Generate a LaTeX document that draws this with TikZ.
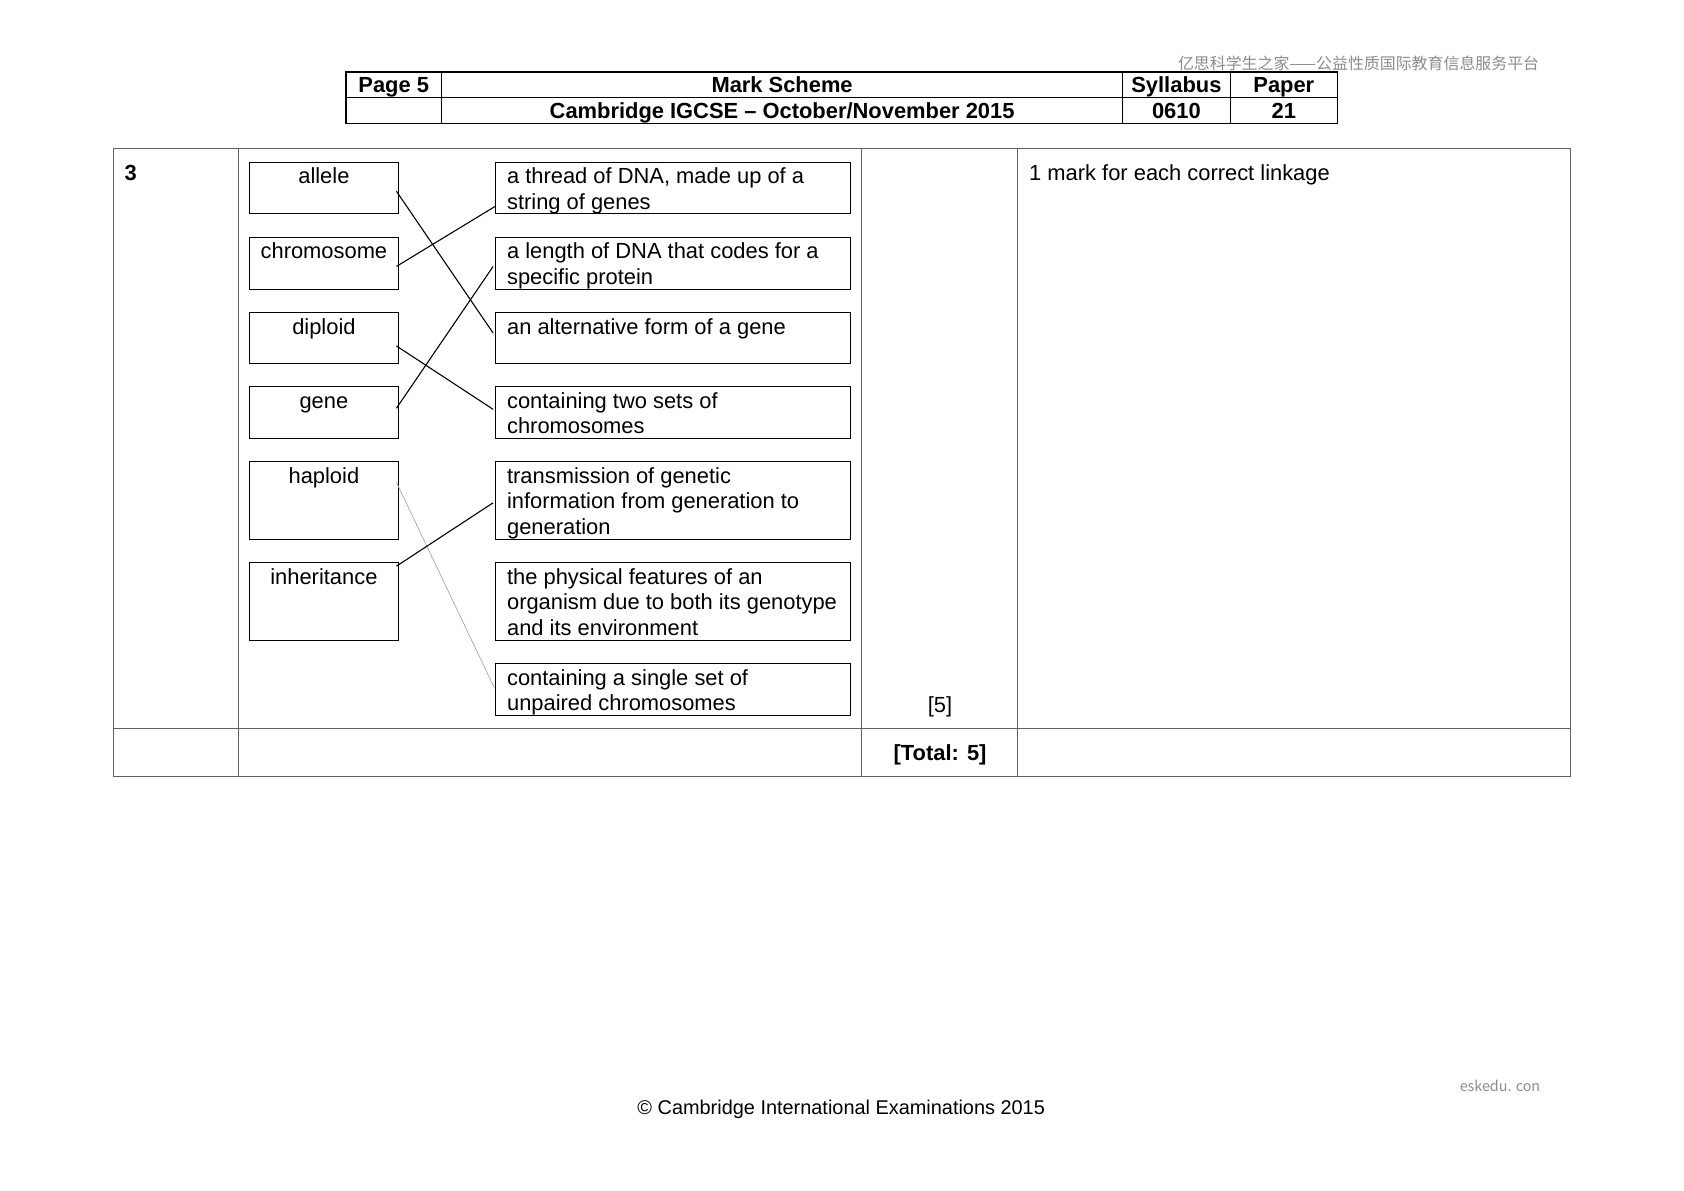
\documentclass[tikz,border=0pt]{standalone}
\usepackage{fontspec}
\setmainfont{Liberation Sans}
\newfontfamily\cjk{Noto Sans CJK SC}
\def\u{0.5397pt}
\begin{document}
\begin{tikzpicture}[x=0.5397pt,y=-0.5397pt,
  hline/.style={draw=black,line width=0.6pt},
  tline/.style={draw=black!62,line width=0.6pt},
  txt/.style={font=\fontsize{11}{12.7}\selectfont,inner sep=0pt,outer sep=0pt},
  btxt/.style={font=\fontsize{11}{12.7}\selectfont\bfseries,inner sep=0pt,outer sep=0pt},
  lbox/.style={draw=black,line width=0.5pt,anchor=north west,inner sep=0pt,outer sep=0pt,minimum width=139*\u},
  rbox/.style={draw=black,line width=0.5pt,anchor=north west,inner sep=0pt,outer sep=0pt,minimum width=331*\u},
  conn/.style={draw=black,line width=0.55pt},
  connlight/.style={draw=black!35,line width=0.35pt},
  wm/.style={font=\cjk\fontsize{8}{9}\selectfont,text=black!45,inner sep=0pt}
]
\useasboundingbox (0,0) rectangle (1567.5,1107.7);

% watermark
\node[wm,anchor=base east] (wm1) at (1433,65) {亿思科学生之家——公益性质国际教育信息服务平台};
\node[wm,font=\cjk\fontsize{7.2}{8}\selectfont,anchor=base east] (wm2) at (1434,1016) {eskedu. con};

% header table
\draw[hline] (322,67) rectangle (1245,115);
\draw[hline] (322,91) -- (1245,91);
\foreach \xx in {411,1045,1145} \draw[hline] (\xx,67) -- (\xx,115);
\node[btxt,anchor=base] (h1) at (366.5,86) {Page 5};
\node[btxt,anchor=base] (h2) at (728,86) {Mark Scheme};
\node[btxt,anchor=base] (h3) at (1095,86) {Syllabus};
\node[btxt,anchor=base] (h4) at (1195,86) {Paper};
\node[btxt,anchor=base] (h5) at (728,110) {Cambridge IGCSE – October/November 2015};
\node[btxt,anchor=base] (h6) at (1095,110) {0610};
\node[btxt,anchor=base] (h7) at (1195,110) {21};

% main table
\draw[tline] (106,138) rectangle (1462,723);
\draw[tline] (106,678) -- (1462,678);
\foreach \xx in {222,802,947} \draw[tline] (\xx,138) -- (\xx,723);
\node[btxt,anchor=base west] (q) at (116,168) {3};
\node[txt,anchor=base west] (note) at (958,168) {1 mark for each correct linkage};
\node[txt,anchor=base] (m5) at (875,663) {[5]};
\node[btxt,anchor=base] (tot) at (875,708) {[Total: 5]};

% left boxes
\node[lbox,minimum height=48*\u] (l1) at (232,151) {};
\node[lbox,minimum height=48*\u] (l2) at (232,221) {};
\node[lbox,minimum height=47*\u] (l3) at (232,291) {};
\node[lbox,minimum height=48*\u] (l4) at (232,360) {};
\node[lbox,minimum height=72*\u] (l5) at (232,430) {};
\node[lbox,minimum height=72*\u] (l6) at (232,524) {};
\node[txt,anchor=base] (t1) at ([yshift=-20*\u]l1.north) {allele};
\node[txt,anchor=base] (t2) at ([yshift=-20*\u]l2.north) {chromosome};
\node[txt,anchor=base] (t3) at ([yshift=-20*\u]l3.north) {diploid};
\node[txt,anchor=base] (t4) at ([yshift=-20*\u]l4.north) {gene};
\node[txt,anchor=base] (t5) at ([yshift=-20*\u]l5.north) {haploid};
\node[txt,anchor=base] (t6) at ([yshift=-20*\u]l6.north) {inheritance};

% right boxes
\node[rbox,minimum height=48*\u] (r1) at (461,151) {};
\node[rbox,minimum height=48*\u] (r2) at (461,221) {};
\node[rbox,minimum height=47*\u] (r3) at (461,291) {};
\node[rbox,minimum height=48*\u] (r4) at (461,360) {};
\node[rbox,minimum height=72*\u] (r5) at (461,430) {};
\node[rbox,minimum height=72*\u] (r6) at (461,524) {};
\node[rbox,minimum height=48*\u] (r7) at (461,618) {};
\newcommand{\ml}[1]{\begin{tabular}[t]{@{}l@{}}#1\end{tabular}}
\node[txt,anchor=base west] (s1) at ([xshift=11*\u,yshift=-20*\u]r1.north west) {\ml{a thread of DNA, made up of a\\string of genes}};
\node[txt,anchor=base west] (s2) at ([xshift=11*\u,yshift=-20*\u]r2.north west) {\ml{a length of DNA that codes for a\\specific protein}};
\node[txt,anchor=base west] (s3) at ([xshift=11*\u,yshift=-20*\u]r3.north west) {\ml{an alternative form of a gene}};
\node[txt,anchor=base west] (s4) at ([xshift=11*\u,yshift=-20*\u]r4.north west) {\ml{containing two sets of\\chromosomes}};
\node[txt,anchor=base west] (s5) at ([xshift=11*\u,yshift=-20*\u]r5.north west) {\ml{transmission of genetic\\information from generation to\\generation}};
\node[txt,anchor=base west] (s6) at ([xshift=11*\u,yshift=-20*\u]r6.north west) {\ml{the physical features of an\\organism due to both its genotype\\and its environment}};
\node[txt,anchor=base west] (s7) at ([xshift=11*\u,yshift=-20*\u]r7.north west) {\ml{containing a single set of\\unpaired chromosomes}};

% connectors
\draw[conn] ([xshift=-2*\u,yshift=-27*\u]l1.north east) -- ([xshift=-2*\u,yshift=-19*\u]r3.north west);
\draw[conn] ([xshift=-2*\u,yshift=-27*\u]l2.north east) -- ([xshift=0*\u,yshift=-41*\u]r1.north west);
\draw[conn] ([xshift=-2*\u,yshift=-31*\u]l3.north east) -- ([xshift=-2*\u,yshift=-21*\u]r4.north west);
\draw[conn] ([xshift=-2*\u,yshift=-20*\u]l4.north east) -- ([xshift=-2*\u,yshift=-27*\u]r2.north west);
\draw[connlight] ([xshift=-2*\u,yshift=-19*\u]l5.north east) -- ([xshift=-1*\u,yshift=-22*\u]r7.north west);
\draw[conn] ([xshift=-2*\u,yshift=-3*\u]l6.north east) -- ([xshift=-2*\u,yshift=-38*\u]r5.north west);

% footer
\node[txt,font=\fontsize{10}{12}\selectfont,anchor=base] (foot) at (783,1037) {© Cambridge International Examinations 2015};
\end{tikzpicture}
\end{document}
